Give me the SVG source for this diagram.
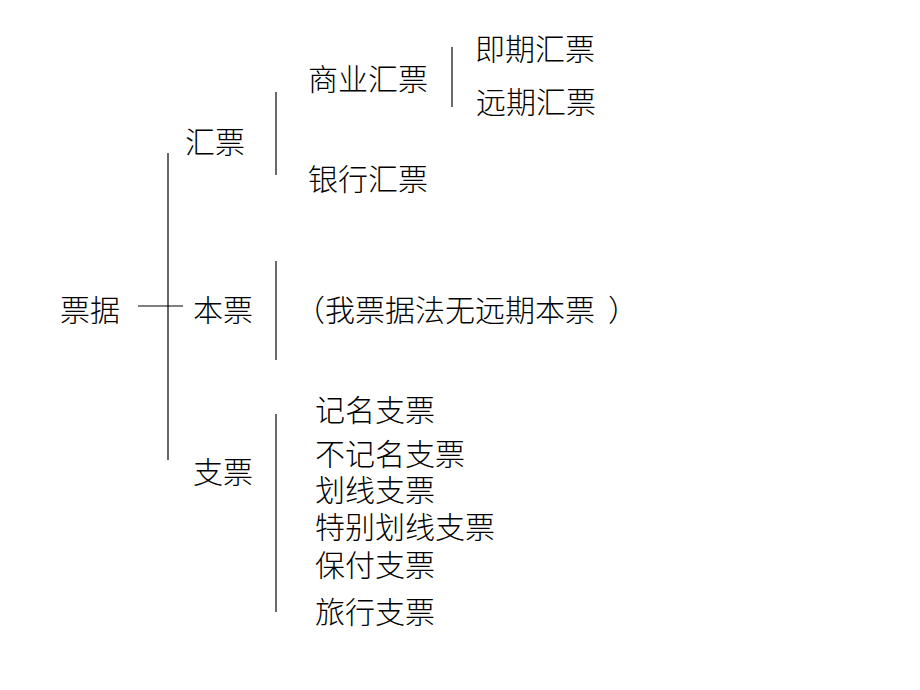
<svg xmlns="http://www.w3.org/2000/svg" width="920" height="690" viewBox="0 0 920 690">
<style>
text{font-family:"Noto Sans CJK SC","Noto Sans CJK TC",sans-serif;font-size:30px;fill:#000;font-weight:300}
.main{stroke:#000;stroke-width:1.2;fill:none}
.br{stroke:#444;stroke-width:1.6;fill:none}
</style>
<rect width="920" height="690" fill="#fff"/>
<g id="connectors">
<line class="main" x1="168" y1="153" x2="168" y2="460"/>
<line class="main" x1="138" y1="306" x2="183" y2="306"/>
<line class="br" x1="276" y1="92" x2="276" y2="175"/>
<line class="br" x1="276" y1="261" x2="276" y2="360"/>
<line class="br" x1="276" y1="414" x2="276" y2="612"/>
<line class="br" x1="452" y1="47" x2="452" y2="107"/>
</g>
<g id="root"><text x="60" y="321">票据</text></g>
<g id="huipiao"><text x="185" y="153">汇票</text></g>
<g id="benpiao"><text x="193" y="321">本票</text></g>
<g id="zhipiao"><text x="193" y="483">支票</text></g>
<g id="shangye"><text x="308" y="90">商业汇票</text></g>
<g id="jiqi"><text x="475" y="60">即期汇票</text></g>
<g id="yuanqi"><text x="476" y="113">远期汇票</text></g>
<g id="yinhang"><text x="308" y="190">银行汇票</text></g>
<g id="note"><text y="321"><tspan x="295">（</tspan><tspan x="325">我票据法无远期本票</tspan><tspan x="608">）</tspan></text></g>
<g id="jiming"><text x="315" y="421">记名支票</text></g>
<g id="bujiming"><text x="315" y="465">不记名支票</text></g>
<g id="huaxian"><text x="315" y="501">划线支票</text></g>
<g id="tebie"><text x="315" y="538">特别划线支票</text></g>
<g id="baofu"><text x="315" y="576">保付支票</text></g>
<g id="lvxing"><text x="315" y="623">旅行支票</text></g>
</svg>
